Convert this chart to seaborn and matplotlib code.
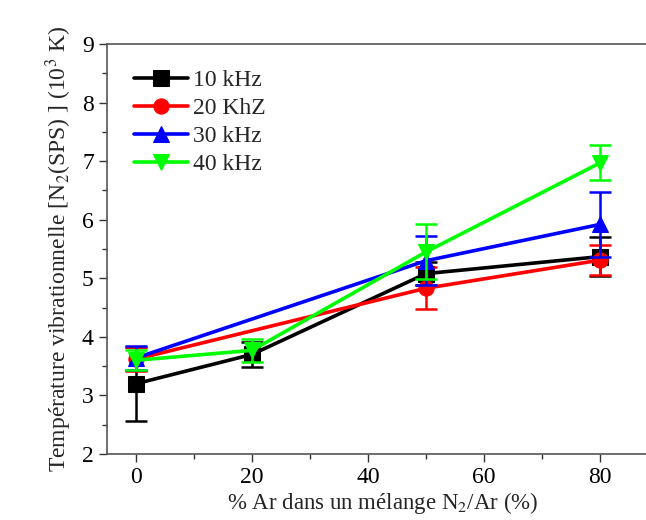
import matplotlib
matplotlib.use("Agg")
import matplotlib.pyplot as plt
import seaborn as sns
import pandas as pd
from matplotlib.ticker import MultipleLocator

sns.set_style("ticks")
plt.rcParams['font.family'] = ['Liberation Serif', 'DejaVu Serif']
plt.rcParams['mathtext.fontset'] = 'stix'

# Data
labels = ["10 kHz", "20 KhZ", "30 kHz", "40 kHz"]
x_10 = [0, 20, 50, 80]
y_10 = [3.2, 3.7, 5.08, 5.37]
e_10 = [0.63, 0.22, 0.2, 0.33]

x_20 = [0, 50, 80]
y_20 = [3.62, 4.83, 5.31]
e_20 = [0.2, 0.36, 0.25]

x_30 = [0, 50, 80]
y_30 = [3.64, 5.3, 5.92]
e_30 = [0.2, 0.42, 0.55]

x_40 = [0, 20, 50, 80]
y_40 = [3.6, 3.77, 5.45, 6.97]
e_40 = [0.17, 0.2, 0.47, 0.3]

series = [
    (labels[0], x_10, y_10, e_10, "black", "s"),
    (labels[1], x_20, y_20, e_20, "#ff0000", "o"),
    (labels[2], x_30, y_30, e_30, "#0000ff", "^"),
    (labels[3], x_40, y_40, e_40, "#00ff00", "v"),
]

fig = plt.figure(figsize=(6.46, 5.2), dpi=100)
ax = fig.add_axes([107/646, 1-454/520, (658-107)/646, (454-44)/520])

for lab, xs, ys, es, col, mk in series:
    df = pd.DataFrame({"x": xs, "y": ys})
    sns.lineplot(data=df, x="x", y="y", ax=ax, color=col, marker=mk,
                 markersize=11, markeredgecolor=col, linewidth=2.6, label=lab)
    ax.errorbar(xs, ys, yerr=es, fmt="none", ecolor=col, elinewidth=1.8,
                capsize=8, capthick=1.8)

ax.set_xlim(-5, 90)
ax.set_ylim(2, 9)
ax.xaxis.set_major_locator(MultipleLocator(20))
ax.xaxis.set_minor_locator(MultipleLocator(10))
ax.yaxis.set_major_locator(MultipleLocator(1))
ax.yaxis.set_minor_locator(MultipleLocator(0.5))
ax.tick_params(axis="both", which="major", labelsize=17, length=6, width=1, direction="out", colors="#333333", labelcolor="black")
ax.tick_params(axis="both", which="minor", length=3.5, width=1, direction="out", colors="#333333")
for s in ax.spines.values():
    s.set_color("#555555")
    s.set_linewidth(1.2)

ax.set_xlabel("% Ar dans un mélange N$_2$/Ar (%)", fontsize=16.5, labelpad=1)
ax.set_ylabel("Température vibrationnelle [N$_2$(SPS) ] (10$^3$ K)", fontsize=17, labelpad=6)

leg = ax.legend(loc="upper left", bbox_to_anchor=(0.01, 0.99), frameon=False,
                fontsize=17, handlelength=2.3, handletextpad=0.2, labelspacing=0.28)

fig.savefig("out.png", dpi=100)
